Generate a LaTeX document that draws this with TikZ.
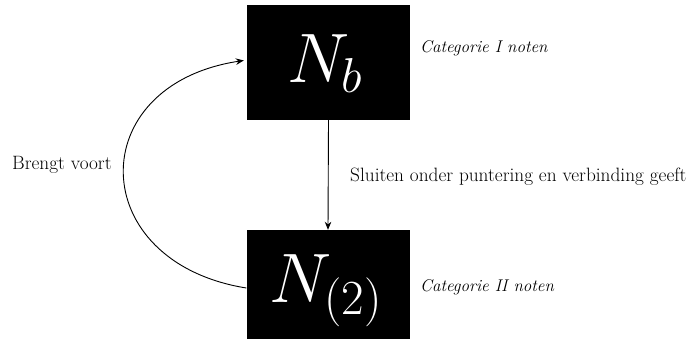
\RequirePackage{fix-cm}
\documentclass[tikz,border=0pt]{standalone}
\usetikzlibrary{arrows.meta}
\begin{document}
\begin{tikzpicture}[x=1pt,y=-1pt,
  box/.style={fill=black,draw=none,minimum width=163pt,minimum height=115pt,inner sep=0pt},
  big/.style={text=white,anchor=base,inner sep=0pt,font=\fontsize{70}{70}\selectfont},
  lbl/.style={anchor=west,inner sep=0pt,font=\fontsize{19.3}{22}\selectfont},
  cat/.style={anchor=west,inner sep=0pt,font=\fontsize{17}{20}\selectfont\itshape},
  conn/.style={line width=0.9pt,-{Stealth[length=8pt,width=6.5pt]}}]
\useasboundingbox (0,0) rectangle (691,338);
\node[box] (nb) at (328.5,62.5) {};
\node[box] (n2) at (328,287.5) {};
\node[big] (tnb) at (325,82) {$N_b$};
\node[big] (tn2) at (326,302) {$N_{(2)}$};
\node[cat] (c1) at (420,48) {Categorie I noten};
\node[cat] (c2) at (420,287) {Categorie II noten};
\node[lbl] (sl) at (350,177) {Sluiten onder puntering en verbinding geeft};
\node[lbl] (bv) at (12,165) {Brengt voort};
\draw[conn] (nb.south) -- (n2.north);
\coordinate (s) at (n2.west |- 0,288);
\coordinate (e) at (nb.west |- 0,60);
\draw[conn,shorten >=3pt] (s) .. controls (85,262) and (82,85) .. (e);
\end{tikzpicture}
\end{document}
